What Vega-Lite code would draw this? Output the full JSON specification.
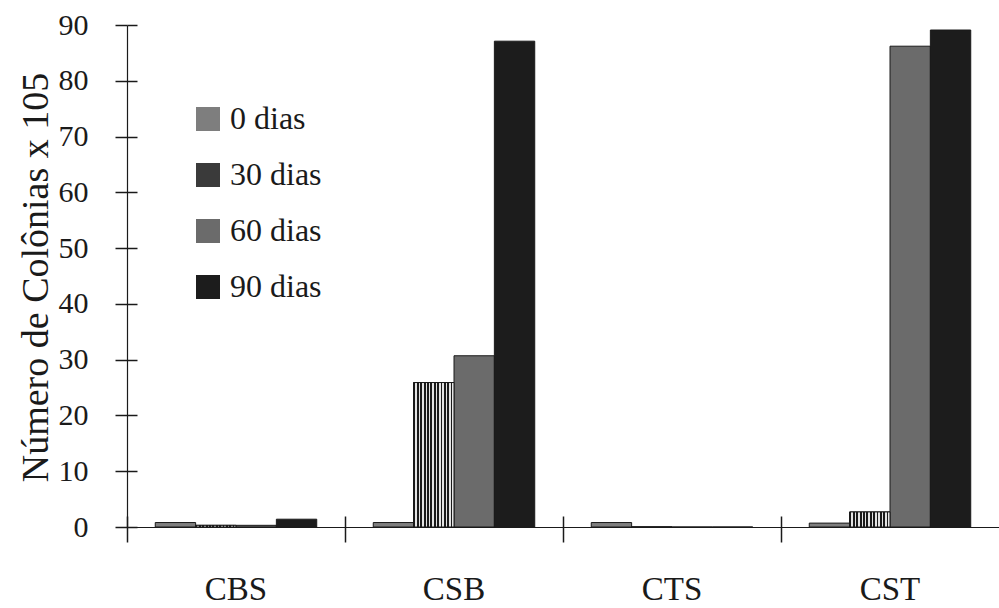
{
  "$schema": "https://vega.github.io/schema/vega-lite/v6.json",
  "width": 872,
  "height": 502,
  "autosize": {"type": "none"},
  "padding": {"left": 127, "top": 25, "right": 0, "bottom": 81},
  "background": "white",
  "config": {
    "font": "Liberation Serif",
    "view": {"stroke": null},
    "axis": {"grid": false, "domainColor": "#1a1a1a", "tickColor": "#1a1a1a", "labelColor": "#1a1a1a", "titleColor": "#1a1a1a", "labelFont": "Liberation Serif", "titleFont": "Liberation Serif", "domainWidth": 1.2, "tickWidth": 1.5}
  },
  "data": {
    "values": [
      {"grupo": "CBS", "tempo": "0 dias", "valor": 0.8},
      {"grupo": "CBS", "tempo": "30 dias", "valor": 0.3},
      {"grupo": "CBS", "tempo": "60 dias", "valor": 0.3},
      {"grupo": "CBS", "tempo": "90 dias", "valor": 1.4},
      {"grupo": "CSB", "tempo": "0 dias", "valor": 0.8},
      {"grupo": "CSB", "tempo": "30 dias", "valor": 25.9},
      {"grupo": "CSB", "tempo": "60 dias", "valor": 30.7},
      {"grupo": "CSB", "tempo": "90 dias", "valor": 87.1},
      {"grupo": "CTS", "tempo": "0 dias", "valor": 0.8},
      {"grupo": "CTS", "tempo": "30 dias", "valor": 0},
      {"grupo": "CTS", "tempo": "60 dias", "valor": 0},
      {"grupo": "CTS", "tempo": "90 dias", "valor": 0},
      {"grupo": "CST", "tempo": "0 dias", "valor": 0.7},
      {"grupo": "CST", "tempo": "30 dias", "valor": 2.7},
      {"grupo": "CST", "tempo": "60 dias", "valor": 86.2},
      {"grupo": "CST", "tempo": "90 dias", "valor": 89.1}
    ]
  },
  "layer": [
    {
      "mark": {"type": "bar", "stroke": "#1a1a1a", "strokeWidth": 1},
      "encoding": {
        "x": {
          "field": "grupo", "type": "nominal", "sort": ["CBS", "CSB", "CTS", "CST"],
          "scale": {"paddingInner": 0, "paddingOuter": 0},
          "axis": {"title": null, "labelAngle": 0, "labelFontSize": 33, "labelFont": "Liberation Serif", "labelPadding": 31, "bandPosition": 0, "tickExtra": false, "tickSize": 15, "orient": "bottom"}
        },
        "xOffset": {
          "field": "tempo", "type": "nominal",
          "scale": {"domain": ["0 dias", "30 dias", "60 dias", "90 dias"], "paddingInner": 0, "paddingOuter": 0.7}
        },
        "y": {
          "field": "valor", "type": "quantitative",
          "scale": {"domain": [0, 90], "nice": false},
          "axis": {
            "orient": "left", "values": [0, 10, 20, 30, 40, 50, 60, 70, 80, 90],
            "labelFontSize": 30, "labelFont": "Liberation Serif", "tickSize": 12, "labelPadding": 27,
            "title": "Número de Colônias x 105", "titleFontSize": 38, "titleFontWeight": "normal",
            "titleAngle": -90, "titleX": -80, "titleY": 252, "titleAlign": "center", "titleBaseline": "alphabetic"
          }
        },
        "color": {
          "field": "tempo", "type": "nominal",
          "scale": {"domain": ["0 dias", "30 dias", "60 dias", "90 dias"], "range": ["#7e7e7e", "#3a3a3a", "#6b6b6b", "#1c1c1c"]},
          "legend": {
            "title": null, "orient": "none", "legendX": 65, "legendY": 78, "padding": 0,
            "symbolType": "square", "symbolSize": 576, "symbolStrokeWidth": 0, "symbolOpacity": 1,
            "labelFontSize": 32, "labelFont": "Liberation Serif", "labelColor": "#1a1a1a", "labelOffset": 6, "rowPadding": 24
          }
        }
      }
    },
    {
      "transform": [{"filter": "datum.tempo === '30 dias'"}],
      "mark": {
        "type": "bar", "stroke": "#1a1a1a", "strokeWidth": 1,
        "fill": {
          "gradient": "linear", "x1": 0, "y1": 0, "x2": 1, "y2": 0,
          "stops": [
            {"offset": 0, "color": "#1a1a1a"}, {"offset": 0.0458, "color": "#1a1a1a"}, {"offset": 0.0458, "color": "#e4e4e4"}, {"offset": 0.0833, "color": "#e4e4e4"},
            {"offset": 0.0833, "color": "#1a1a1a"}, {"offset": 0.1292, "color": "#1a1a1a"}, {"offset": 0.1292, "color": "#e4e4e4"}, {"offset": 0.1667, "color": "#e4e4e4"},
            {"offset": 0.1667, "color": "#1a1a1a"}, {"offset": 0.2125, "color": "#1a1a1a"}, {"offset": 0.2125, "color": "#e4e4e4"}, {"offset": 0.25, "color": "#e4e4e4"},
            {"offset": 0.25, "color": "#1a1a1a"}, {"offset": 0.2958, "color": "#1a1a1a"}, {"offset": 0.2958, "color": "#e4e4e4"}, {"offset": 0.3333, "color": "#e4e4e4"},
            {"offset": 0.3333, "color": "#1a1a1a"}, {"offset": 0.3792, "color": "#1a1a1a"}, {"offset": 0.3792, "color": "#e4e4e4"}, {"offset": 0.4167, "color": "#e4e4e4"},
            {"offset": 0.4167, "color": "#1a1a1a"}, {"offset": 0.4625, "color": "#1a1a1a"}, {"offset": 0.4625, "color": "#e4e4e4"}, {"offset": 0.5, "color": "#e4e4e4"},
            {"offset": 0.5, "color": "#1a1a1a"}, {"offset": 0.5458, "color": "#1a1a1a"}, {"offset": 0.5458, "color": "#e4e4e4"}, {"offset": 0.5833, "color": "#e4e4e4"},
            {"offset": 0.5833, "color": "#1a1a1a"}, {"offset": 0.6292, "color": "#1a1a1a"}, {"offset": 0.6292, "color": "#e4e4e4"}, {"offset": 0.6667, "color": "#e4e4e4"},
            {"offset": 0.6667, "color": "#1a1a1a"}, {"offset": 0.7125, "color": "#1a1a1a"}, {"offset": 0.7125, "color": "#e4e4e4"}, {"offset": 0.75, "color": "#e4e4e4"},
            {"offset": 0.75, "color": "#1a1a1a"}, {"offset": 0.7958, "color": "#1a1a1a"}, {"offset": 0.7958, "color": "#e4e4e4"}, {"offset": 0.8333, "color": "#e4e4e4"},
            {"offset": 0.8333, "color": "#1a1a1a"}, {"offset": 0.8792, "color": "#1a1a1a"}, {"offset": 0.8792, "color": "#e4e4e4"}, {"offset": 0.9167, "color": "#e4e4e4"},
            {"offset": 0.9167, "color": "#1a1a1a"}, {"offset": 0.9625, "color": "#1a1a1a"}, {"offset": 0.9625, "color": "#e4e4e4"}, {"offset": 1, "color": "#e4e4e4"}
          ]
        }
      },
      "encoding": {
        "x": {
          "field": "grupo", "type": "nominal", "sort": ["CBS", "CSB", "CTS", "CST"],
          "axis": {"orient": "bottom", "title": null, "domain": false, "labels": false, "bandPosition": 0, "tickExtra": false, "tickSize": 11, "offset": -11}
        },
        "xOffset": {
          "field": "tempo", "type": "nominal",
          "scale": {"domain": ["0 dias", "30 dias", "60 dias", "90 dias"]}
        },
        "y": {
          "field": "valor", "type": "quantitative",
          "axis": {"orient": "left", "title": null, "domain": false, "labels": false, "values": [0, 10, 20, 30, 40, 50, 60, 70, 80, 90], "tickSize": 10, "offset": -10}
        }
      }
    }
  ],
  "resolve": {"axis": {"x": "independent", "y": "independent"}}
}
